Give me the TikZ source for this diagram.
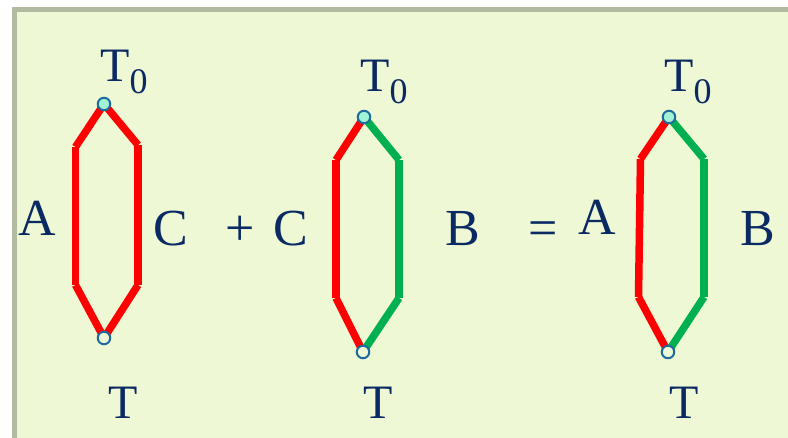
\documentclass[tikz,border=0pt]{standalone}
\usepackage{fontspec}
\setmainfont{Liberation Serif}
\usepackage{xcolor}
\usetikzlibrary{backgrounds}
\definecolor{pnavy}{HTML}{0B2A63}
\definecolor{pred}{HTML}{FF0000}
\definecolor{pgreen}{HTML}{00B050}
\definecolor{pfill}{HTML}{EEF8D4}
\definecolor{pframe}{HTML}{B1BA9F}
\definecolor{pdot}{HTML}{A2F2D6}
\definecolor{pdotline}{HTML}{1D6A9C}

\begin{document}
\begin{tikzpicture}[x=1pt, y=-1pt,
  lbl/.style={text=pnavy, inner sep=0pt, anchor=base, font=\fontsize{52}{52}\selectfont},
  tlbl/.style={text=pnavy, inner sep=0pt, font=\fontsize{48}{48}\selectfont},
  seg/.style={line width=7.5pt, line cap=butt},
  redseg/.style={seg, draw=pred},
  greenseg/.style={seg, draw=pgreen},
  topdot/.style={circle, draw=pdotline, fill=pdot, line width=2pt, minimum size=12.5pt, inner sep=0pt},
  botdot/.style={circle, draw=pdotline, fill=pfill, line width=2pt, minimum size=12.5pt, inner sep=0pt}]
  \useasboundingbox (0,0) rectangle (788,438);

  % first loop: A and C
  \coordinate (a1) at (75.5,147);
  \coordinate (a2) at (75.5,285);
  \coordinate (c1) at (138,145);
  \coordinate (c2) at (138,285);
  \node[topdot] (top1) at (104,104) {};
  \node[botdot] (bot1) at (104,338) {};
  % second loop: C and B
  \coordinate (l1) at (336,160);
  \coordinate (l2) at (336,298);
  \coordinate (b1) at (399,160);
  \coordinate (b2) at (399,298);
  \node[topdot] (top2) at (364,117) {};
  \node[botdot] (bot2) at (363,352) {};
  % third loop: A and B
  \coordinate (m1) at (640.5,159);
  \coordinate (m2) at (638.5,297);
  \coordinate (n1) at (704,159);
  \coordinate (n2) at (704,297);
  \node[topdot] (top3) at (669,117) {};
  \node[botdot] (bot3) at (668,352) {};

  \begin{scope}[on background layer]
    % frame
    \fill[white] (0,0) rectangle (788,438);
    \draw[pframe, line width=4.5pt, fill=pfill] (14.5,9.5) rectangle (800,450);
    \draw[redseg] (top1.center) -- (a1);
    \draw[redseg] (a1) -- (a2);
    \draw[redseg] (a2) -- (bot1.center);
    \draw[redseg] (top1.center) -- (c1);
    \draw[redseg] (c1) -- (c2);
    \draw[redseg] (c2) -- (bot1.center);
    \draw[redseg] (top2.center) -- (l1);
    \draw[redseg] (l1) -- (l2);
    \draw[redseg] (l2) -- (bot2.center);
    \draw[greenseg] (top2.center) -- (b1);
    \draw[greenseg] (b1) -- (b2);
    \draw[greenseg] (b2) -- (bot2.center);
    \draw[redseg] (top3.center) -- (m1);
    \draw[redseg] (m1) -- (m2);
    \draw[redseg] (m2) -- (bot3.center);
    \draw[greenseg] (top3.center) -- (n1);
    \draw[greenseg] (n1) -- (n2);
    \draw[greenseg] (n2) -- (bot3.center);
  \end{scope}

  % labels
  \node[tlbl, anchor=base west] (t0a) at (100,82) {T\raisebox{-12pt}{\fontsize{36}{36}\selectfont 0}};
  \node[tlbl, anchor=base west] (t0b) at (360,92) {T\raisebox{-12pt}{\fontsize{36}{36}\selectfont 0}};
  \node[tlbl, anchor=base west] (t0c) at (664,92) {T\raisebox{-12pt}{\fontsize{36}{36}\selectfont 0}};
  \node[tlbl, anchor=base] (ta) at (123,419) {T};
  \node[tlbl, anchor=base] (tb) at (378,419) {T};
  \node[tlbl, anchor=base] (tc) at (684,419) {T};
  \node[lbl] (la) at (37,236) {A};
  \node[lbl] (lc) at (171,246) {C};
  \node[lbl] (plus) at (240,246) {+};
  \node[lbl] (lc2) at (291,246) {C};
  \node[lbl] (lb) at (463,246) {B};
  \node[lbl] (eq) at (543,246) {=};
  \node[lbl] (la2) at (597,235) {A};
  \node[lbl] (lb2) at (758,246) {B};
\end{tikzpicture}
\end{document}
